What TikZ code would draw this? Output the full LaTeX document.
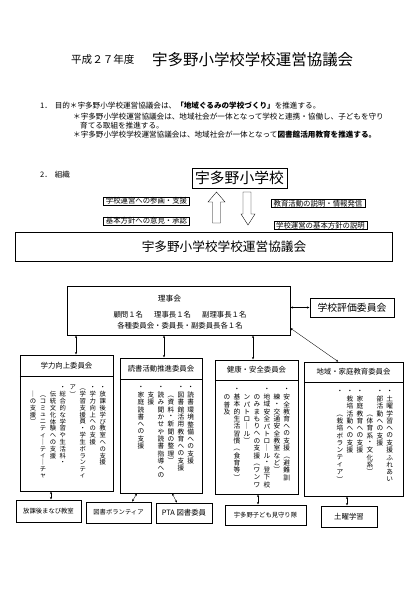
\documentclass[tikz,border=0pt]{standalone}
\usepackage{fontspec}
\setmainfont{Noto Sans CJK JP}
\usetikzlibrary{arrows.meta}

% vertical writing: one character per cell
\newlength\tatestep
\newlength\tatecolw
\setlength\tatestep{10.4pt}
\setlength\tatecolw{14.2pt}
\newcommand\kara{\phantom{国}}
\newcommand\vlp{\rotatebox[origin=c]{-90}{（}}
\newcommand\vrp{\rotatebox[origin=c]{-90}{）}}
\def\tateloop#1{\ifx\relax#1\else
  \vbox to\tatestep{\vss\hbox to\tatecolw{\hss#1\hss}\vss}%
  \expandafter\tateloop\fi}
\newcommand\tatecol[1]{\vtop{\offinterlineskip\tateloop#1\relax}}

\begin{document}
\begin{tikzpicture}[x=0.5mm,y=-0.5mm,line width=0.5pt,
  every node/.style={inner sep=0pt},
  kbox/.style={draw,rectangle,inner sep=0pt},
  notebox/.style={draw,inner xsep=3.5pt,inner ysep=1pt,font=\fontsize{10.5}{12}\selectfont},
  body/.style={font=\fontsize{10.8}{12}\selectfont},
  head/.style={font=\fontsize{10.5}{12}\selectfont},
  small/.style={font=\fontsize{9}{10}\selectfont},
  tate/.style={anchor=north east,font=\fontsize{9.5}{10}\selectfont},
  link/.style={{Stealth[length=3.5pt,width=3pt]}-{Stealth[length=3.5pt,width=3pt]},shorten <=0.5pt,shorten >=0.5pt}]

\fill[white] (0,0) rectangle (420,595);
\useasboundingbox (0,0) rectangle (420,595);

% title
\node[anchor=west,font=\fontsize{15}{16}\selectfont] (nendo) at (71,60) {平成２７年度};
\node[anchor=west,font=\fontsize{22}{24}\selectfont] (title) at (152,60) {宇多野小学校学校運営協議会};

% 1. purpose
\node[body,anchor=west] (p1) at (40,106) {1．\hspace{4pt}目的＊宇多野小学校運営協議会は、\textbf{「地域ぐるみの学校づくり」}を推進する。};
\node[body,anchor=west] (p2) at (73,117) {＊宇多野小学校運営協議会は、地域社会が一体となって学校と連携・協働し、子どもを守り};
\node[body,anchor=west] (p3) at (80,125.5) {育てる取組を推進する。};
\node[body,anchor=west] (p4) at (73,135) {＊宇多野小学校学校運営協議会は、地域社会が一体となって\textbf{図書館活用教育を推進する。}};

% 2. organisation
\node[body,anchor=west] (soshiki) at (40,175) {2．\hspace{4pt}組織};

\node[kbox,minimum width=47.5mm,minimum height=10mm,font=\fontsize{21}{22}\selectfont] (sho) at (239.5,178) {宇多野小学校};

\node[notebox] (sanka) at (146.5,201) {学校運営への参画・支援};
\node[notebox] (iken) at (146.5,221) {基本方針への意見・承認};
\node[notebox] (setsumei) at (318,203.5) {教育活動の説明・情報発信};
\node[notebox] (hoshin) at (320.5,225.5) {学校運営の基本方針の説明};

% hollow arrows
\draw (216.5,192) -- (225,202) -- (220.5,202) -- (220.5,223) -- (212.5,223)
  -- (212.5,202) -- (208,202) -- cycle;
\draw (243,192) -- (251,192) -- (251,214) -- (255,214) -- (248,225) -- (241,214)
  -- (243,214) -- cycle;

\node[kbox,minimum width=188.5mm,minimum height=14.5mm] (kyogi) at (203.5,246.5) {};
\node[font=\fontsize{18}{20}\selectfont] (kyogi-t) at (224,247) {宇多野小学校学校運営協議会};

% board
\node[kbox,minimum width=111.5mm,minimum height=24.5mm] (riji) at (178.5,310.5) {};
\node[font=\fontsize{11}{12}\selectfont] (riji-t) at (169.5,299) {理事会};
\node[head] (riji-a) at (180,315) {顧問１名\hspace{1.5em}理事長１名\hspace{1.5em}副理事長１名};
\node[head] (riji-b) at (180,326) {各種委員会・委員長・副委員長各１名};

\node[kbox,minimum width=42mm,minimum height=9.5mm,font=\fontsize{14}{15}\selectfont] (hyoka) at (352,307.5) {学校評価委員会};
\draw[link] (hyoka.west) -- (hyoka.west -| riji.east);

% committees
\node[kbox,minimum width=46.5mm,minimum height=68mm] (g1) at (66.5,423) {};
\node[kbox,minimum width=41mm,minimum height=67.5mm] (g2) at (161,425.5) {};
\node[kbox,minimum width=41.5mm,minimum height=67mm] (g3) at (256.5,427) {};
\node[kbox,minimum width=49.5mm,minimum height=67mm] (g4) at (353.5,429) {};

\node[head] (g1-t) at (66.5,365.5) {学力向上委員会};
\node[head] (g2-t) at (161,368.5) {読書活動推進委員会};
\node[head] (g3-t) at (256.5,370) {健康・安全委員会};
\node[head] (g4-t) at (353.5,372) {地域・家庭教育委員会};
\draw (g1.west |- 0,376) -- (g1.east |- 0,376);
\draw (g2.west |- 0,379) -- (g2.east |- 0,379);
\draw (g3.west |- 0,380) -- (g3.east |- 0,380);
\draw (g4.west |- 0,382) -- (g4.east |- 0,382);

% column texts, written left column first
\node[tate,font=\fontsize{9}{10}\selectfont] (g1-v) at (108,384) {\setlength\tatestep{9.7pt}\hbox{%
  \tatecol{\kara ｜の支援\vrp}%
  \tatecol{\kara \vlp コミュニティ｜ティ｜チャ}%
  \tatecol{\kara 伝統文化体験への支援}%
  \tatecol{・総合的な学習や生活科・}%
  \tatecol{ア\vrp}%
  \tatecol{\vlp 学習支援員・学生ボランティ}%
  \tatecol{・学力向上への支援}%
  \tatecol{・放課後学び教室への支援}}};
\node[tate] (g2-v) at (196,384) {\hbox{%
  \tatecol{・家庭読書への支援}%
  \tatecol{\kara 支援}%
  \tatecol{・読み聞かせや読書指導への}%
  \tatecol{\kara \vlp 資料・新聞の整理\vrp}%
  \tatecol{・図書館活用教育への支援}%
  \tatecol{・読書環境整備への支援}}};
\node[tate] (g3-v) at (292,386) {\hbox{%
  \tatecol{\kara の普及}%
  \tatecol{・基本的生活習慣\vlp 食育等\vrp}%
  \tatecol{\kara ンパトロ｜ル\vrp}%
  \tatecol{\kara のみまもりへの支援\vlp ワンワ}%
  \tatecol{・地域安全パトロ｜ル・登下校}%
  \tatecol{\kara 練・交通安全教室など\vrp}%
  \tatecol{・安全教育への支援\vlp 避難訓}}};
\node[tate] (g4-v) at (395,388) {\hbox{%
  \tatecol{・\kara\kara \vlp 栽培ボランティア\vrp}%
  \tatecol{・栽培活動への支援}%
  \tatecol{・家庭教育への支援}%
  \tatecol{\kara\kara\kara \vlp 体育系・文化系\vrp}%
  \tatecol{・部活動への支援}%
  \tatecol{・土曜学習への支援ふれあい}}};

\draw[link] ([xshift=4.75mm]g1.north) -- ([xshift=4.75mm]g1.north |- riji.south);
\draw[link] ([xshift=1.5mm]g2.north) -- ([xshift=1.5mm]g2.north |- riji.south);
\draw[link] ([xshift=-1.75mm]g3.north) -- ([xshift=-1.75mm]g3.north |- riji.south);
\draw[link] ([xshift=-7.5mm]g4.north) -- ([yshift=-8.75mm]riji.east);

% partners
\node[kbox,minimum width=32.5mm,minimum height=11mm,small] (b1) at (48.5,511) {放課後まなび教室};
\node[kbox,minimum width=32.5mm,minimum height=10.5mm,small] (b2) at (118.5,512.5) {図書ボランティア};
\node[kbox,minimum width=28mm,minimum height=10mm,head] (b3) at (184,513) {PTA 図書委員};
\node[kbox,minimum width=40.5mm,minimum height=10mm,small] (b4) at (265.5,515) {宇多野子ども見守り隊};
\node[kbox,minimum width=28mm,minimum height=10.5mm,head] (b5) at (349,516.5) {土曜学習};

\draw[link] ([xshift=-7.75mm]g1.south) -- ([xshift=-7.75mm]g1.south |- b1.north);
\draw[link] ([xshift=-12mm]g2.south) -- ([xshift=6.75mm]b2.north);
\draw[link] ([xshift=5.5mm]g2.south) -- ([xshift=-3.5mm]b3.north);
\draw[link] ([xshift=0.75mm]g3.south) -- ([xshift=0.75mm]g3.south |- b4.north);
\draw[link] ([xshift=-3.25mm]g4.south) -- ([xshift=-3.25mm]g4.south |- b5.north);
\end{tikzpicture}
\end{document}
